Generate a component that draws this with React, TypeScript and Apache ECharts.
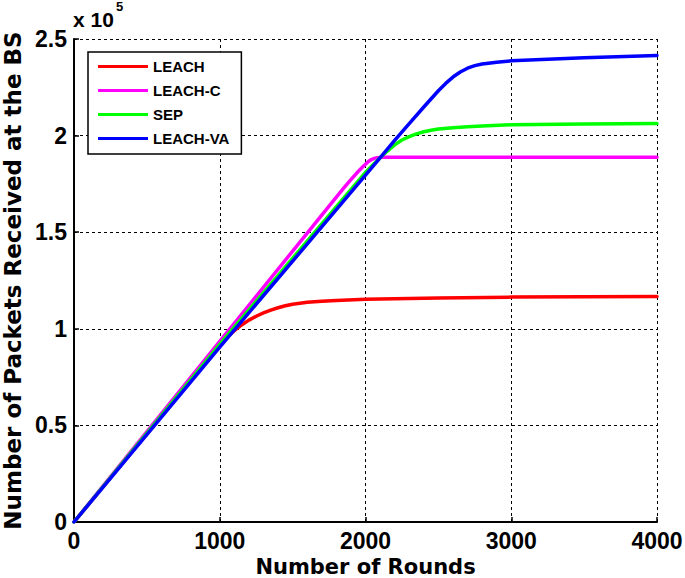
import React, { useEffect, useRef } from "react";
import * as echarts from "echarts";

// values are in units of 10^5 packets
const xTicks = [0, 1000, 2000, 3000, 4000];
const seriesNames = ["LEACH", "LEACH-C", "SEP", "LEACH-VA"];
const seriesColors = ["#ff0000", "#ff00ff", "#00ff00", "#0000ff"];

const leachRounds = [0, 1000, 1050, 1100, 1150, 1200, 1250, 1300, 1350, 1400, 1450, 1500, 1600, 1700, 1800, 2000, 2500, 3000, 3500, 4000];
const leachValues = [0, 0.915, 0.957, 0.99, 1.02, 1.045, 1.065, 1.082, 1.097, 1.109, 1.119, 1.127, 1.137, 1.143, 1.147, 1.153, 1.16, 1.164, 1.166, 1.167];

const leachCRounds = [0, 1000, 1800, 1850, 1900, 1950, 1980, 2000, 2020, 2040, 2060, 2080, 2120, 2200, 3000, 4000];
const leachCValues = [0, 0.935, 1.682, 1.728, 1.772, 1.814, 1.837, 1.852, 1.866, 1.876, 1.882, 1.886, 1.888, 1.888, 1.888, 1.888];

const sepRounds = [0, 1000, 2000, 2100, 2150, 2200, 2250, 2300, 2350, 2400, 2450, 2500, 2600, 2700, 2800, 3000, 3500, 4000];
const sepValues = [0, 0.92, 1.81, 1.885, 1.92, 1.952, 1.977, 1.995, 2.009, 2.02, 2.028, 2.034, 2.041, 2.046, 2.05, 2.056, 2.06, 2.063];

const vaRounds = [0, 1000, 2000, 2100, 2200, 2300, 2400, 2500, 2550, 2600, 2650, 2700, 2750, 2800, 2900, 3000, 3500, 4000];
const vaValues = [0, 0.905, 1.795, 1.885, 1.975, 2.062, 2.148, 2.232, 2.27, 2.303, 2.329, 2.349, 2.362, 2.371, 2.38, 2.387, 2.403, 2.415];

const allRounds = [leachRounds, leachCRounds, sepRounds, vaRounds];
const allValues = [leachValues, leachCValues, sepValues, vaValues];

const FONT = "'Liberation Sans', Arial, Helvetica, sans-serif";
const NAME_FONT = "'DejaVu Sans', 'Liberation Sans', Arial, sans-serif";

export default function App() {
  const ref = useRef<HTMLDivElement>(null);

  useEffect(() => {
    if (!ref.current) return;
    const chart = echarts.init(ref.current, undefined, { renderer: "svg" });
    const series = seriesNames.map((name, i) => ({
      name,
      type: "line",
      data: allRounds[i].map((r, j) => [r, allValues[i][j]]),
      showSymbol: false,
      symbol: "none",
      smooth: false,
      lineStyle: { color: seriesColors[i], width: 3.5, join: "round", cap: "round" },
      itemStyle: { color: seriesColors[i] },
      z: 2 + i,
    }));

    chart.setOption({
      animation: false,
      backgroundColor: "#ffffff",
      textStyle: { fontFamily: FONT },
      grid: { left: 74, right: 28, top: 39, bottom: 56, containLabel: false, outerBoundsMode: "none" },
      xAxis: {
        type: "value",
        min: xTicks[0],
        max: xTicks[xTicks.length - 1],
        interval: 1000,
        name: "Number of Rounds",
        nameLocation: "middle",
        nameGap: 33,
        nameTextStyle: { fontSize: 21, lineHeight: 21, fontWeight: "bold", color: "#000", fontFamily: NAME_FONT },
        axisLine: { show: true, lineStyle: { color: "#000", width: 2 } },
        axisTick: { show: true, inside: true, length: 5, lineStyle: { color: "#000", width: 1.5 } },
        axisLabel: {
          fontSize: 23,
          fontWeight: "bold",
          color: "#000",
          margin: 7,
          fontFamily: FONT,
          formatter: (v: number) => String(v),
        },
        splitLine: { show: true, lineStyle: { color: "#000", type: [3, 3], width: 1 } },
      },
      yAxis: {
        type: "value",
        min: 0,
        max: 2.5,
        interval: 0.5,
        name: "Number of Packets Received at the BS",
        nameLocation: "middle",
        nameGap: 49,
        nameTextStyle: { fontSize: 23, lineHeight: 23, fontWeight: "bold", color: "#000", fontFamily: NAME_FONT },
        axisLine: { show: true, lineStyle: { color: "#000", width: 2 } },
        axisTick: { show: true, inside: true, length: 5, lineStyle: { color: "#000", width: 1.5 } },
        axisLabel: {
          fontSize: 23,
          fontWeight: "bold",
          color: "#000",
          margin: 7,
          fontFamily: FONT,
          formatter: (v: number) => String(v),
        },
        splitLine: { show: true, lineStyle: { color: "#000", type: [3, 3], width: 1 } },
      },
      legend: {
        show: true,
        orient: "vertical",
        left: 88,
        top: 52,
        data: seriesNames,
        icon: "rect",
        itemWidth: 50,
        itemHeight: 3,
        itemGap: 9,
        padding: [7, 12, 8, 10],
        backgroundColor: "#ffffff",
        borderColor: "#000",
        borderWidth: 1.5,
        borderRadius: 0,
        textStyle: { fontSize: 15, fontWeight: "bold", color: "#000", fontFamily: FONT, lineHeight: 15 },
      },
      graphic: [
        {
          type: "text",
          left: 73,
          top: 9,
          style: { text: "x 10", fontSize: 21, fontWeight: "bold", fill: "#000", fontFamily: FONT },
        },
        {
          type: "text",
          left: 116,
          top: 0,
          style: { text: "5", fontSize: 13, fontWeight: "bold", fill: "#000", fontFamily: FONT },
        },
      ],
      series,
    });
    return () => chart.dispose();
  }, []);

  return <div ref={ref} style={{ width: 685, height: 578, position: "absolute", left: 0, top: 0 }} />;
}
